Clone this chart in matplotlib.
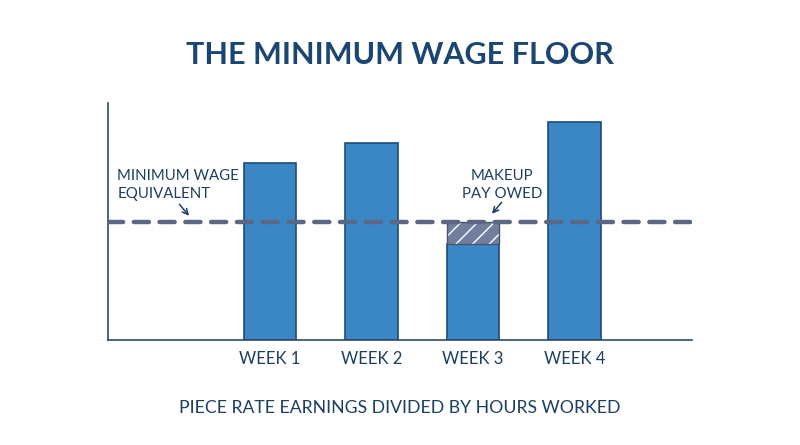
import matplotlib.pyplot as plt
import numpy as np

weeks = ['WEEK 1', 'WEEK 2', 'WEEK 3', 'WEEK 4']
earnings = [18.0, 20.0, 9.8, 22.1]   # effective hourly rate
floor_rate = 12.0

plt.rcParams['font.family'] = ['Lato', 'DejaVu Sans']
dark = '#1d3f63'
bar_col = '#3b87c6'

fig = plt.figure(figsize=(8, 4.45), dpi=100)
ax = fig.add_axes([0.135, 0.236, 0.73, 0.533])

x = np.arange(len(weeks))
ax.bar(x, earnings, width=0.52, color=bar_col, edgecolor='#1f4b75', linewidth=1.2, zorder=2)

# shortfall for weeks under the floor
plt.rcParams['hatch.linewidth'] = 1.0
for i, v in enumerate(earnings):
    if v < floor_rate:
        ax.bar(i, floor_rate - v, bottom=v, width=0.52, color='#737e9c',
               edgecolor='white', hatch='//', linewidth=0, zorder=2)
        ax.bar(i, floor_rate - v, bottom=v, width=0.52, fill=False,
               edgecolor='#4a5572', linewidth=1.0, zorder=3)

ax.axhline(floor_rate, color='#5a6785', lw=3.2, dashes=(3.4, 2.4),
           dash_capstyle='round', zorder=4)

ax.set_xlim(-1.596, 4.158)
ax.set_ylim(0, 24.1)
for s in ['top', 'right']:
    ax.spines[s].set_visible(False)
for s in ['left', 'bottom']:
    ax.spines[s].set_color('#2c4a6b')
    ax.spines[s].set_linewidth(1.2)
ax.set_yticks([])
ax.set_xticks(x)
ax.set_xticklabels(weeks, fontsize=12, color=dark)
ax.tick_params(axis='x', length=0, pad=8)

ax.text(-1.505, 17.4, 'MINIMUM WAGE\nEQUIVALENT', fontsize=10.8, color=dark,
        linespacing=1.35, va='top', ha='left')
ax.annotate('', xy=(-0.78, floor_rate + 0.4), xytext=(-0.91, 14.0),
            arrowprops=dict(arrowstyle='->', color=dark, lw=1.1))

ax.text(2.29, 17.4, 'MAKEUP\nPAY OWED', fontsize=10.8, color=dark,
        linespacing=1.35, va='top', ha='center')
ax.annotate('', xy=(2.17, floor_rate + 0.6), xytext=(2.3, 14.2),
            arrowprops=dict(arrowstyle='->', color=dark, lw=1.1))

fig.text(0.5, 0.877, 'THE MINIMUM WAGE FLOOR', ha='center', va='center',
         fontsize=22, fontweight='bold', color='#1b4672')
fig.text(0.5, 0.083, 'PIECE RATE EARNINGS DIVIDED BY HOURS WORKED', ha='center',
         va='center', fontsize=12.7, color=dark)

fig.savefig('out.png', dpi=100)
